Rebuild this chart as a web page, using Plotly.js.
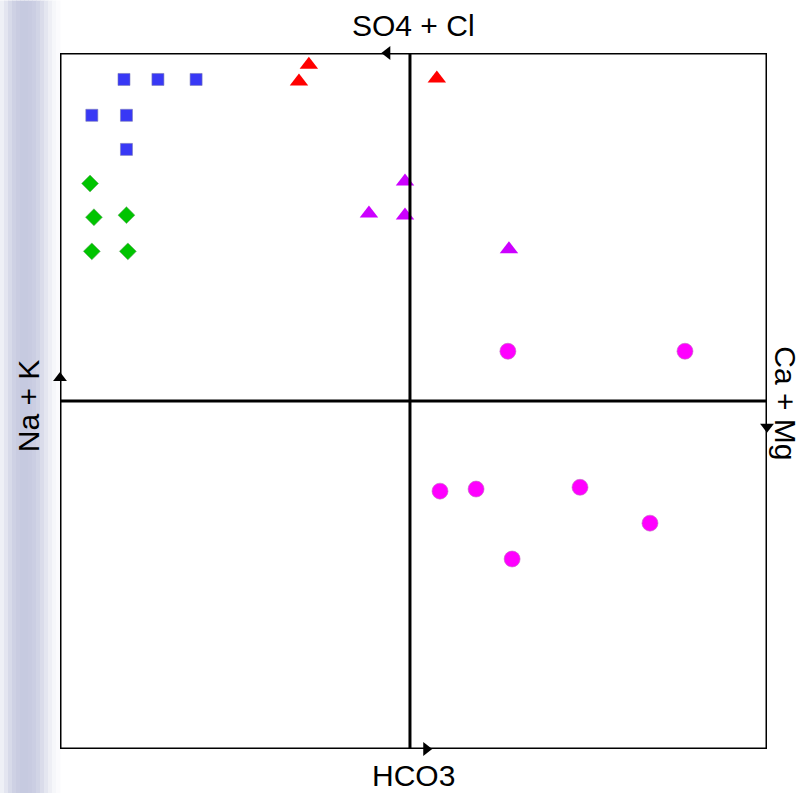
<!DOCTYPE html>
<html>
<head>
<meta charset="utf-8">
<script src="https://cdn.plot.ly/plotly-3.0.1.min.js"></script>
<style>
html,body{margin:0;padding:0;background:#ffffff;}
#chart{width:802px;height:793px;}
</style>
</head>
<body>
<div id="chart"></div>
<script>
// Axis labels of the diagram
var labelTop = "SO4 + Cl";
var labelBottom = "HCO3";
var labelLeft = "Na + K";
var labelRight = "Ca + Mg";

// Sample groups (x: horizontal score, y: vertical score)
var blueX = [-80.9, -71.3, -60.5, -90.0, -80.2, -80.2];
var blueY = [92.4, 92.4, 92.4, 82.1, 82.1, 72.3];

var greenX = [-90.5, -89.4, -80.2, -90.0, -79.8];
var greenY = [62.5, 52.8, 53.4, 43.0, 43.0];

var redX = [-28.6, -31.4, 7.6];
var redY = [96.6, 91.8, 92.7];

var purpleX = [-1.4, -11.6, -1.4, 28.0];
var purpleY = [63.1, 53.9, 53.3, 43.6];

var magentaX = [27.7, 77.8, 8.5, 18.7, 48.1, 67.9, 28.9];
var magentaY = [14.3, 14.3, -25.9, -25.3, -24.8, -35.1, -45.4];

// Plot geometry
var W = 802, H = 793;
var L = 60, R = 35, T = 52.5, B = 44;
var PW = W - L - R, PH = H - T - B;
var XR = [-99, 101], YR = [-100, 100];

function px2paperX(p){ return (p - L) / PW; }
function py2paperY(p){ return (H - B - p) / PH; }

var traces = [
  {x: blueX, y: blueY, mode: 'markers', type: 'scatter', cliponaxis: false,
   marker: {symbol: 'square', size: 12, color: '#3838f5', line: {width: 0.6, color: '#7a7ab8'}}},
  {x: greenX, y: greenY, mode: 'markers', type: 'scatter', cliponaxis: false,
   marker: {symbol: 'diamond', size: 13, color: '#00c400', line: {width: 0.6, color: '#6aa86a'}}},
  {x: redX, y: redY, mode: 'markers', type: 'scatter', cliponaxis: false,
   marker: {symbol: 'triangle-up', size: 16, color: '#ff0000', line: {width: 0}}},
  {x: purpleX, y: purpleY, mode: 'markers', type: 'scatter', cliponaxis: false,
   marker: {symbol: 'triangle-up', size: 16, color: '#cc00ff', line: {width: 0}}},
  {x: magentaX, y: magentaY, mode: 'markers', type: 'scatter', cliponaxis: false,
   marker: {symbol: 'circle', size: 16, color: '#ff00ff', line: {width: 0.6, color: '#c070c0'}}},
  // direction arrows on the axes (decoration)
  {x: [-6.4, XR[0], XR[1], 4.6], y: [YR[1], 6.6, -7.4, YR[0]], mode: 'markers', type: 'scatter',
   cliponaxis: false, hoverinfo: 'skip',
   marker: {symbol: ['triangle-left', 'triangle-up', 'triangle-down', 'triangle-right'],
            size: 12, color: '#000000', line: {width: 0}}}
];

var shapes = [];
// left bluish shading band
var bandStops = [
  [0, '#eef0f6'], [4, '#e3e5f0'], [8, '#d7dae9'], [12, '#ced1e4'], [16, '#c9cce1'],
  [20, '#c6cae0'], [24, '#c6cae0'], [28, '#c8cbe1'], [32, '#cbcee3'], [36, '#d1d4e6'],
  [40, '#dadcea'], [44, '#e4e6f0'], [48, '#eeeff5'], [52, '#f6f7fa'], [56, '#fbfbfd']
];
for (var i = 0; i < bandStops.length; i++) {
  var x0 = bandStops[i][0], x1 = (i + 1 < bandStops.length) ? bandStops[i + 1][0] : 60;
  shapes.push({type: 'rect', layer: 'below', xref: 'paper', yref: 'paper',
    x0: px2paperX(x0), x1: px2paperX(x1 + 0.5), y0: py2paperY(H), y1: py2paperY(0),
    fillcolor: bandStops[i][1], line: {width: 0}});
}
// frame and centre lines
var lineStyle = {color: '#000000', width: 3};
shapes.push({type: 'rect', layer: 'above', xref: 'x', yref: 'y', x0: XR[0], x1: XR[1], y0: YR[0], y1: YR[1], line: lineStyle});
shapes.push({type: 'line', layer: 'above', xref: 'x', yref: 'y', x0: 0, x1: 0, y0: YR[0], y1: YR[1], line: lineStyle});
shapes.push({type: 'line', layer: 'above', xref: 'x', yref: 'y', x0: XR[0], x1: XR[1], y0: 0, y1: 0, line: lineStyle});

var font = {family: 'Arial, "Liberation Sans", sans-serif', size: 30, color: '#000000'};
var annotations = [
  {text: labelTop, xref: 'paper', yref: 'paper', x: px2paperX(413), y: py2paperY(25), showarrow: false, xanchor: 'center', yanchor: 'middle', font: font},
  {text: labelBottom, xref: 'paper', yref: 'paper', x: px2paperX(413), y: py2paperY(776), showarrow: false, xanchor: 'center', yanchor: 'middle', font: font},
  {text: labelLeft, xref: 'paper', yref: 'paper', x: px2paperX(28), y: py2paperY(406), showarrow: false, xanchor: 'center', yanchor: 'middle', textangle: -90, font: font},
  {text: labelRight, xref: 'paper', yref: 'paper', x: px2paperX(786), y: py2paperY(403), showarrow: false, xanchor: 'center', yanchor: 'middle', textangle: 90, font: font}
];

var axisBase = {showgrid: false, zeroline: false, showticklabels: false, ticks: '', showline: false, fixedrange: true};
var layout = {
  width: W, height: H,
  margin: {l: L, r: R, t: T, b: B, pad: 0},
  paper_bgcolor: '#ffffff', plot_bgcolor: '#ffffff',
  showlegend: false,
  xaxis: Object.assign({range: XR}, axisBase),
  yaxis: Object.assign({range: YR}, axisBase),
  shapes: shapes,
  annotations: annotations
};

Plotly.newPlot('chart', traces, layout, {staticPlot: true, displayModeBar: false});
</script>
</body>
</html>
